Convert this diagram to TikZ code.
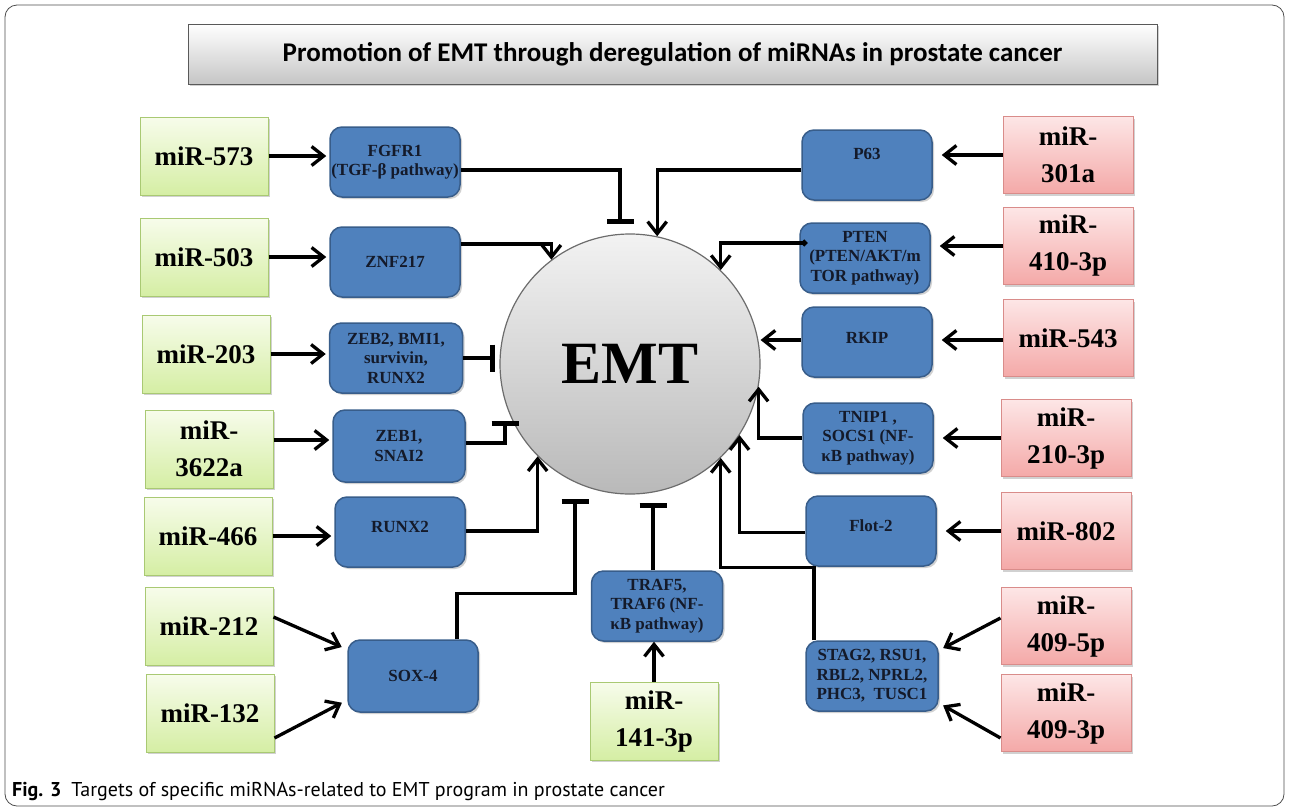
\documentclass[tikz,border=0pt]{standalone}
\usepackage{fontspec}
\setmainfont{Liberation Serif}
\newfontfamily\titlefont{Carlito}
\newfontfamily\capfont{PT Sans}
\usetikzlibrary{arrows.meta,shadows}
\definecolor{gtop}{HTML}{F7FCEB}
\definecolor{gbot}{HTML}{D5EEA4}
\definecolor{gborder}{HTML}{A9C973}
\definecolor{ptop}{HTML}{FDE6E6}
\definecolor{pbot}{HTML}{F4A9A8}
\definecolor{pborder}{HTML}{D98C8A}
\definecolor{bfill}{HTML}{4F81BD}
\definecolor{bborder}{HTML}{385D8A}
\definecolor{btext}{HTML}{141A2A}
\begin{document}
\begin{tikzpicture}[x=1pt,y=-1pt,
  shad/.style={drop shadow={shadow xshift=2pt,shadow yshift=-2pt,opacity=0.3,fill=black!60}},
  gbox/.style={shad,draw=gborder,line width=1pt,top color=gtop,bottom color=gbot,
    minimum width=128pt,minimum height=78pt,inner sep=0pt,align=center,
    font=\fontsize{27}{37}\selectfont\bfseries},
  pbox/.style={shad,draw=pborder,line width=1pt,top color=ptop,bottom color=pbot,
    minimum width=130pt,minimum height=77pt,inner sep=0pt,align=center,
    font=\fontsize{27}{37}\selectfont\bfseries},
  bbox/.style={shad,draw=bborder,line width=1.5pt,fill=bfill,rounded corners=12pt,
    minimum width=130pt,minimum height=70pt,inner sep=0pt,align=center,text=btext,
    font=\fontsize{17}{19.5}\selectfont\bfseries},
  act/.style={line width=3.3pt,-{Straight Barb[length=12pt,width=19pt]}},
  inh/.style={line width=3.3pt,-{Bar[width=27pt,line width=5pt]}},
]
\useasboundingbox (0,0) rectangle (1290,809);
\draw[gray!60!black,line width=0.8pt,rounded corners=12pt] (5,5) rectangle (1284,806);

% title
\node[shad,draw=gray!70!black,line width=1pt,top color=white,bottom color=gray!45,
  minimum width=969pt,minimum height=60pt,inner sep=0pt,
  font=\titlefont\bfseries\fontsize{27}{27}\selectfont] (title) at (672.5,54)
  {Promotion of EMT through deregulation of miRNAs in prostate cancer};

% centre
\node[circle,minimum size=260pt,inner sep=0pt,draw=gray!85!black,line width=1.2pt,
  top color=gray!10,bottom color=gray!55,
  font=\fontsize{60}{60}\selectfont\bfseries] (emt) at (630,364) {EMT};

% green miRNAs
\node[gbox] (g573) at (204,156) {miR-573};
\node[gbox] (g503) at (204,257) {miR-503};
\node[gbox] (g203) at (206,354) {miR-203};
\node[gbox] (g3622) at (209,449) {miR-\\3622a};
\node[gbox] (g466) at (208,536) {miR-466};
\node[gbox] (g212) at (209,626) {miR-212};
\node[gbox] (g132) at (210,713) {miR-132};
\node[gbox] (g141) at (654,721) {miR-\\141-3p};

% red miRNAs
\node[pbox] (p301) at (1068,155) {miR-\\301a};
\node[pbox] (p410) at (1068,246) {miR-\\410-3p};
\node[pbox] (p543) at (1068,338) {miR-543};
\node[pbox] (p210) at (1066,438) {miR-\\210-3p};
\node[pbox] (p802) at (1066,531) {miR-802};
\node[pbox] (p409a) at (1066,626) {miR-\\409-5p};
\node[pbox] (p409b) at (1066,713) {miR-\\409-3p};

% targets
\node[bbox] (fgfr) at (395,162) {FGFR1\\(TGF-β pathway)};
\node[bbox] (znf) at (395,262) {ZNF217};
\node[bbox,minimum width=133pt] (zeb2) at (396,358) {ZEB2, BMI1,\\survivin,\\RUNX2};
\node[bbox,minimum width=132pt,minimum height=72pt] (zeb1) at (399,446) {ZEB1,\\SNAI2};
\node[bbox,text depth=10pt] (runx) at (400,532) {RUNX2};
\node[bbox,minimum height=72pt] (sox) at (413,676) {SOX-4};
\node[bbox,minimum width=131pt] (traf) at (657,606) {TRAF5,\\TRAF6 (NF-\\κB pathway)};
\node[bbox,text depth=22pt] (p63) at (867,165) {P63};
\node[bbox] (pten) at (865,258) {PTEN\\(PTEN/AKT/m\\TOR pathway)};
\node[bbox,text depth=8pt] (rkip) at (867,342) {RKIP};
\node[bbox] (tnip) at (868,438) {TNIP1 ,\\SOCS1 (NF-\\κB pathway)};
\node[bbox,text depth=10pt] (flot) at (871,531) {Flot-2};
\node[bbox,minimum width=132pt] (stag) at (872,676) {STAG2, RSU1,\\RBL2, NPRL2,\\PHC3,~~TUSC1};

% miRNA -> target arrows (left)
\draw[act,shorten >=3pt] (g573.east) -- (g573.east -| fgfr.west);
\draw[act,shorten >=3pt] (g503.east) -- (g503.east -| znf.west);
\draw[act,shorten >=3pt] (g203.east) -- (g203.east -| zeb2.west);
\coordinate (a3622) at ([yshift=9pt]g3622.east);
\draw[act,shorten >=3pt] (a3622) -- (a3622 -| zeb1.west);
\draw[act,shorten >=3pt] (g466.east) -- (g466.east -| runx.west);
\coordinate (a212) at ([yshift=9pt]g212.east);
\draw[act,shorten >=6pt] (a212) -- (sox.158);
\coordinate (a132) at ([yshift=-25pt]g132.east);
\draw[act,shorten >=6pt] (a132) -- (sox.200);
\draw[act] (g141.north) -- (g141.north |- traf.south);

% miRNA -> target arrows (right)
\draw[act,shorten >=9pt] (p301.west) -- (p301.west -| p63.east);
\draw[act,shorten >=9pt] (p410.west) -- (p410.west -| pten.east);
\coordinate (a543) at ([yshift=-2pt]p543.west);
\draw[act,shorten >=9pt] (a543) -- (a543 -| rkip.east);
\draw[act,shorten >=9pt] (p210.west) -- (p210.west -| tnip.east);
\draw[act,shorten >=9pt] (p802.west) -- (p802.west -| flot.east);
\coordinate (a409a) at ([yshift=8pt]p409a.west);
\draw[act,shorten >=5pt] (a409a) -- (stag.21);
\coordinate (a409b) at ([yshift=-25pt]p409b.west);
\draw[act,shorten >=5pt] (a409b) -- (stag.338);

% targets -> EMT
\coordinate (fgfrOut) at ([yshift=-8pt]fgfr.east);
\coordinate (fgfrEnd) at (620,224);
\draw[inh] (fgfrOut) -| (fgfrEnd);
\coordinate (znfOut) at ([yshift=18pt]znf.east);
\draw[act] (znfOut) -| (emt.127);
\coordinate (zeb2End) at (495,358);
\draw[inh] (zeb2.east) -- (zeb2End);
\coordinate (zeb1Out) at ([yshift=3pt]zeb1.east);
\coordinate (zeb1End) at (505,421);
\draw[inh] (zeb1Out) -| (zeb1End);
\coordinate (runxOut) at ([yshift=1pt]runx.east);
\draw[act] (runxOut) -| (emt.225);
\coordinate (soxOut) at ([xshift=44pt]sox.north);
\coordinate (soxEnd) at (575,499);
\draw[inh] (soxOut) -- ++(0,-46) -| (soxEnd);
\coordinate (trafOut) at ([xshift=-4pt]traf.north);
\coordinate (trafEnd) at (653,503);
\draw[inh] (trafOut) -- (trafEnd);

\coordinate (p63Out) at ([yshift=-5pt]p63.west);
\draw[act] (p63Out) -| (emt.78);
\coordinate (ptenOut) at ([xshift=8pt,yshift=15pt]pten.west);
\draw[line width=3.3pt,{Circle[length=6pt]}-{Straight Barb[length=12pt,width=19pt]}] (ptenOut) -| (emt.46);
\coordinate (rkipOut) at ([yshift=2pt]rkip.west);
\draw[act] (rkipOut) -- (rkipOut -| emt.east);
\draw[act] (tnip.west) -| (emt.350);
\coordinate (flotOut) at ([yshift=-1.5pt]flot.west);
\draw[act] (flotOut) -| (emt.327);
\coordinate (stagOut) at ([xshift=-58pt]stag.north);
\draw[act] (stagOut) -- ++(0,-73) -| (emt.314);

% caption
\node[anchor=base west,inner sep=0pt,font=\capfont\fontsize{20}{20}\selectfont] (cap) at (12,796)
  {\textbf{Fig. 3}\enspace Targets of specific miRNAs-related to EMT program in prostate cancer};
\end{tikzpicture}
\end{document}
